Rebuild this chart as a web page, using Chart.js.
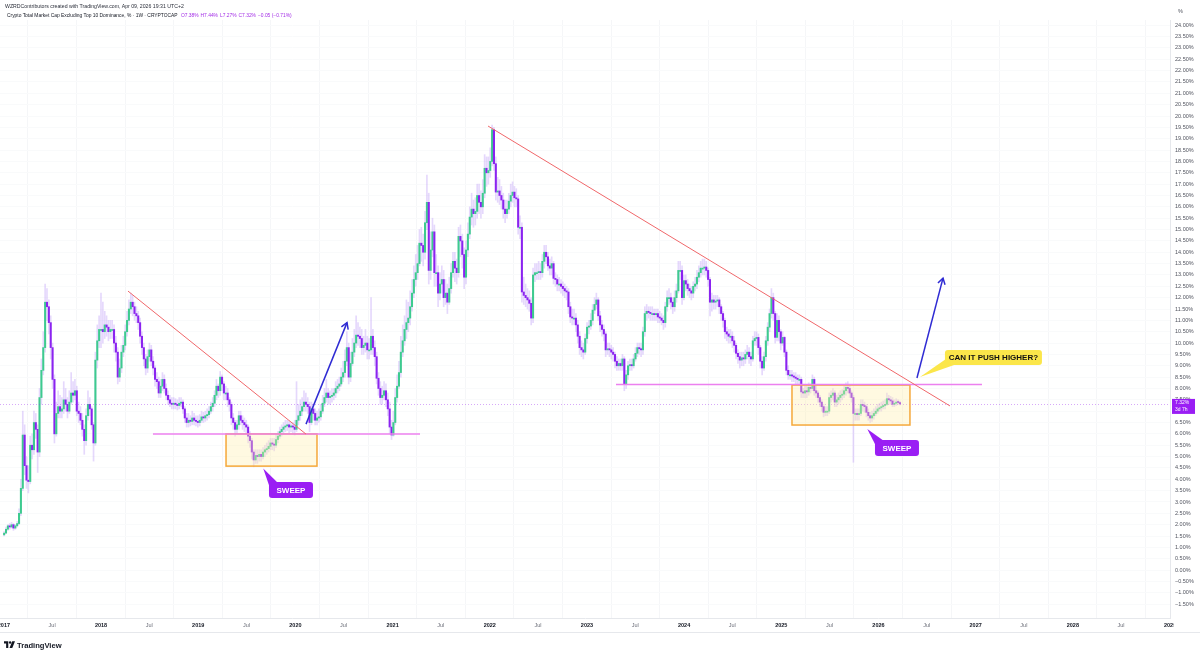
<!DOCTYPE html>
<html>
<head>
<meta charset="utf-8">
<script src="https://cdn.jsdelivr.net/npm/chart.js@4.4.1/dist/chart.umd.min.js"></script>
<style>
  html, body { margin: 0; padding: 0; background: #fff; }
  #wrap { position: relative; width: 1200px; height: 650px; overflow: hidden; font-family: "Liberation Sans", Arial, sans-serif; }
  #c { position: absolute; left: 0; top: 0; }
  .hdr1 { position: absolute; left: 5px; top: 3px; font-size: 5.2px; color: #2a2e39; white-space: nowrap; }
  .hdr2 { position: absolute; left: 7px; top: 13px; font-size: 4.9px; color: #131722; white-space: nowrap; }
  .hdr2 .v { color: #a22be6; margin-left: 2px; }
  .logo { position: absolute; left: 4px; top: 640px; height: 10px; display: flex; align-items: center; gap: 2px;
          font-weight: bold; font-size: 7.6px; color: #131722; }
</style>
</head>
<body>
<div id="wrap">
  <canvas id="c" width="1200" height="650"></canvas>
  <div class="hdr1">WZRDContributors created with TradingView.com, Apr 09, 2026 19:31 UTC+2</div>
  <div class="hdr2">Crypto Total Market Cap Excluding Top 10 Dominance, % · 1W · CRYPTOCAP
    <span class="v">O7.38%</span><span class="v">H7.44%</span><span class="v">L7.27%</span><span class="v">C7.32%</span><span class="v">−0.05 (−0.71%)</span></div>
  <div class="logo">
    <svg width="11" height="8" viewBox="0 0 36 24"><path d="M0 0h14v22H7V7H0z" fill="#131722"/><circle cx="20" cy="4" r="4" fill="#131722"/><path d="M27 0h9l-9 22h-9z" fill="#131722"/></svg>
    <span>TradingView</span>
  </div>
</div>
<script>
// weekly candles from the week of 2 Jan 2017, open = previous close
const firstOpen = 1.55;

const closes2017 = [1.63,1.8,1.95,1.9,2.0,1.85,1.95,2.05,2.5,3.6,5.95,4.6,3.96,3.9,5.5,5.3,6.5,6.2,5.2,7.6,8.8,9.8,11.8,11.6,10.9,9.8,8.4,6.0,6.9,7.2,7.0,7.1,7.5,7.3,7.0,7.4,7.8,7.7,7.9,7.0,6.9,6.6,6.2,5.7,6.8,7.3,7.1,6.4,5.6,9.25,10.1,10.6];
const highs2017 = [1.7,1.9,2.0,2.05,2.1,2.05,2.0,2.15,2.7,4.0,7.0,6.4,5.0,4.6,5.9,6.0,7.0,6.9,6.4,8.0,9.3,10.5,12.6,12.4,11.9,11.2,10.0,8.6,7.4,7.9,7.7,7.6,8.3,8.0,7.6,7.9,8.7,8.3,8.4,8.1,7.4,7.2,6.9,6.4,7.1,7.9,7.6,7.2,6.5,9.6,10.8,11.2];
const lows2017 = [1.5,1.6,1.75,1.8,1.85,1.75,1.8,1.9,2.0,2.4,3.5,4.2,3.6,3.4,3.8,4.9,5.1,5.8,4.3,5.0,7.3,8.6,9.6,11.0,10.4,9.3,8.0,5.6,5.9,6.7,6.7,6.7,6.9,7.0,6.7,6.9,7.3,7.4,7.5,6.8,6.5,6.4,5.9,5.1,5.5,6.6,6.8,6.2,4.8,5.5,8.9,9.8];

const closes2018 = [10.6,10.5,10.8,10.7,10.5,10.6,10.6,10.0,9.6,8.5,8.9,9.6,9.9,10.5,11.0,11.5,11.8,11.6,11.3,11.2,10.9,10.3,9.8,9.3,8.9,9.4,9.7,9.2,8.9,8.4,8.3,7.8,8.1,8.4,8.0,7.7,7.5,7.35,7.3,7.35,7.3,7.25,7.35,7.4,7.1,6.7,6.5,6.6,6.55,6.7,6.6,6.55];
const highs2018 = [12.2,11.8,11.4,11.2,11.0,11.0,11.0,10.8,10.3,9.8,9.3,9.9,10.3,10.8,11.4,11.9,12.2,12.1,11.8,11.6,11.4,11.1,10.5,10.0,9.5,9.7,10.0,9.9,9.4,9.0,8.7,8.5,8.4,8.7,8.6,8.2,7.9,7.7,7.6,7.6,7.55,7.5,7.6,7.6,7.5,7.2,6.9,6.9,6.8,7.0,6.9,6.8];
const lows2018 = [9.8,10.0,10.2,10.3,10.1,10.2,10.2,9.6,9.2,8.2,8.3,8.7,9.4,9.7,10.3,10.8,11.3,11.2,11.0,10.9,10.6,10.0,9.5,9.0,8.6,8.7,9.2,9.0,8.6,8.1,8.0,7.6,7.6,7.9,7.8,7.5,7.3,7.2,7.1,7.1,7.1,7.05,7.1,7.2,6.9,6.5,6.3,6.3,6.35,6.4,6.4,6.35];

const closes2019 = [6.5,6.6,6.75,6.7,6.8,6.85,7.0,7.2,7.35,7.7,8.1,7.9,8.5,8.2,7.8,7.8,7.5,7.3,6.7,6.5,6.2,6.4,6.8,6.6,6.5,6.4,6.3,5.9,5.7,5.2,4.85,5.05,5.0,5.1,5.0,5.2,5.3,5.35,5.45,5.6,5.55,5.5,5.75,5.9,6.1,6.2,6.3,6.35,6.4,6.3,6.35,6.3];
const highs2019 = [6.8,6.85,7.0,6.95,7.0,7.1,7.2,7.4,7.6,7.9,8.4,8.2,8.75,8.6,8.3,8.1,8.0,7.6,7.4,6.9,6.6,6.6,7.0,7.0,6.8,6.7,6.6,6.4,6.1,5.8,5.3,5.3,5.3,5.3,5.3,5.4,5.5,5.6,5.7,5.8,5.8,5.8,6.0,6.1,6.3,6.4,6.5,6.6,6.6,6.55,6.5,6.5];
const lows2019 = [6.3,6.35,6.5,6.5,6.55,6.6,6.7,6.9,7.0,7.2,7.5,7.6,7.7,7.9,7.5,7.5,7.2,7.0,6.4,6.2,5.9,6.0,6.2,6.4,6.2,6.1,6.0,5.6,5.4,4.9,4.55,4.7,4.7,4.8,4.8,4.9,5.0,5.1,5.2,5.3,5.3,5.25,5.4,5.6,5.8,5.9,6.0,6.1,6.15,6.05,6.1,6.05];

const closes2020 = [6.2,6.6,6.8,7.0,7.2,7.4,7.3,7.2,6.5,7.1,6.9,6.6,6.7,6.75,7.0,7.35,7.6,7.8,7.6,7.65,7.7,7.8,8.0,8.1,8.2,8.5,8.7,9.2,9.8,8.5,9.1,9.6,10.0,10.35,10.3,10.2,9.8,9.9,10.0,9.7,9.7,10.3,9.8,9.4,8.45,8.0,7.6,7.7,7.9,7.5,7.1,6.3];
const highs2020 = [6.6,8.3,7.3,7.5,7.6,7.9,7.8,7.6,7.4,7.4,7.3,7.1,7.0,7.1,7.3,7.7,8.0,8.4,8.0,7.9,8.0,8.0,8.3,8.4,8.5,8.9,9.2,9.7,10.5,10.0,9.6,10.2,10.6,11.2,10.9,10.7,10.6,10.3,10.6,10.3,10.2,12.0,10.6,10.1,9.6,8.7,8.3,8.1,8.3,8.2,7.8,7.4];
const lows2020 = [5.95,6.1,6.4,6.6,6.8,7.0,7.0,6.9,6.1,6.4,6.6,6.4,6.4,6.5,6.6,6.9,7.2,7.4,7.3,7.3,7.4,7.5,7.6,7.8,7.9,8.1,8.3,8.5,9.0,8.2,8.3,9.0,9.4,9.8,9.9,9.8,9.5,9.5,9.6,9.3,9.3,9.5,9.5,9.0,8.2,7.7,7.3,7.3,7.5,7.2,6.8,6.0];

const closes2021 = [5.95,6.5,7.6,8.1,8.7,9.6,10.1,10.6,10.9,11.1,11.6,12.2,12.8,13.1,13.5,14.4,14.3,14.0,15.3,16.2,13.2,14.1,14.9,13.1,13.1,12.2,12.6,12.8,12.0,12.2,11.8,12.4,13.1,13.6,13.3,13.1,14.7,14.5,13.9,12.9,14.1,14.8,15.55,15.9,15.7,15.8,16.5,16.2,16.0,16.6,17.7,17.5];
const highs2021 = [6.6,7.0,8.0,8.6,9.2,10.3,10.8,11.2,11.9,11.8,12.3,12.8,13.4,13.9,14.3,15.0,15.1,14.8,15.8,17.4,16.6,14.9,15.5,15.2,13.9,13.4,13.1,13.4,13.2,12.8,12.6,12.9,13.5,14.0,14.0,13.7,15.1,15.2,14.8,14.2,14.5,15.3,16.0,16.6,16.3,16.4,17.0,17.0,16.7,17.2,18.3,18.2];
const lows2021 = [5.75,5.9,6.4,7.4,8.0,8.5,9.4,9.9,10.2,10.5,10.8,11.4,12.0,12.5,12.8,13.4,13.6,13.4,13.7,15.0,12.6,12.8,13.8,12.5,12.5,11.6,11.9,12.2,11.6,11.7,11.3,11.7,12.2,12.9,12.7,12.6,12.9,13.8,13.3,12.4,12.6,13.8,14.6,15.2,15.1,15.2,15.5,15.7,15.5,15.7,16.4,16.9];

const closes2022 = [17.6,18.0,19.4,17.9,16.65,16.7,16.5,16.3,15.9,15.7,15.9,16.25,16.5,16.65,16.4,16.35,15.1,15.1,12.25,12.1,12.0,11.9,11.75,11.1,13.0,13.1,13.1,13.15,13.1,13.6,14.0,13.8,13.4,13.3,13.5,12.85,12.8,12.6,12.6,12.5,12.4,12.3,12.25,11.6,11.15,11.1,11.1,10.8,10.3,9.8,9.7,9.6];
const highs2022 = [18.2,18.6,19.6,19.5,18.2,17.3,17.2,16.9,16.6,16.3,16.3,16.6,17.0,17.1,16.9,16.8,16.5,15.6,15.3,12.9,12.6,12.4,12.3,12.0,13.3,13.5,13.5,13.6,13.5,13.9,14.3,14.3,14.0,13.7,13.8,13.6,13.1,13.0,12.9,12.8,12.7,12.6,12.5,12.4,11.8,11.5,11.5,11.3,11.0,10.5,10.1,10.0];
const lows2022 = [17.0,17.3,17.8,17.6,16.3,16.2,16.1,15.9,15.5,15.3,15.5,15.7,16.0,16.2,16.0,16.0,14.8,14.6,11.8,11.7,11.6,11.5,11.4,10.8,10.9,12.7,12.8,12.8,12.8,12.9,13.3,13.5,13.2,13.0,13.0,12.6,12.5,12.3,12.3,12.2,12.1,12.0,11.9,11.3,10.9,10.8,10.8,10.5,10.0,9.5,9.4,9.3];

const closes2023 = [10.2,10.7,10.75,11.0,11.45,11.7,11.9,11.2,10.8,10.6,10.4,9.7,9.75,9.7,9.6,9.5,9.2,9.0,9.1,9.0,9.3,8.2,8.6,9.0,9.05,9.0,9.3,9.55,9.8,9.75,9.7,10.5,11.3,11.4,11.35,11.3,11.3,11.25,11.3,11.15,11.1,11.0,10.9,11.6,12.0,12.0,11.8,11.6,12.0,12.3,13.2,13.2];
const highs2023 = [10.4,10.9,11.0,11.3,11.7,12.0,12.2,12.0,11.4,11.0,10.8,10.5,10.0,10.0,9.9,9.8,9.6,9.4,9.3,9.3,9.5,9.4,8.8,9.2,9.3,9.3,9.5,9.8,10.0,10.0,10.0,10.7,11.6,11.7,11.6,11.6,11.6,11.5,11.5,11.5,11.4,11.3,11.2,11.8,12.3,12.4,12.2,12.0,12.3,12.6,13.6,13.6];
const lows2023 = [9.5,10.0,10.4,10.6,10.8,11.3,11.5,11.0,10.5,10.3,10.1,9.4,9.5,9.4,9.3,9.2,8.9,8.8,8.8,8.8,8.8,7.9,8.0,8.4,8.8,8.8,8.9,9.2,9.4,9.5,9.4,9.5,10.3,11.0,11.1,11.0,11.0,11.0,11.0,10.9,10.9,10.8,10.6,10.7,11.4,11.7,11.5,11.3,11.4,11.8,12.2,12.8];

const closes2024 = [12.0,12.75,12.6,12.4,12.3,12.2,12.5,12.6,12.9,13.1,13.3,13.3,13.35,13.2,12.8,11.8,11.9,11.8,11.85,11.9,11.6,11.3,11.0,10.5,10.4,10.3,10.3,10.1,9.9,9.55,9.4,9.25,9.35,9.3,9.5,9.6,9.4,9.3,10.1,10.2,10.25,9.8,9.2,8.9,9.4,10.1,10.7,11.3,12.0,11.3,10.25,11.0];
const highs2024 = [13.4,13.0,13.0,12.8,12.6,12.5,12.7,12.9,13.2,13.4,13.6,13.7,13.7,13.6,13.3,12.9,12.2,12.1,12.1,12.1,12.0,11.7,11.4,11.1,10.7,10.6,10.6,10.5,10.3,10.0,9.7,9.6,9.6,9.6,9.7,9.9,9.8,9.6,10.3,10.5,10.5,10.4,9.9,9.4,9.6,10.3,10.9,11.5,12.4,12.2,11.4,11.3];
const lows2024 = [11.7,11.9,12.3,12.1,12.0,11.9,12.0,12.3,12.4,12.7,12.9,13.0,13.0,12.9,12.5,11.2,11.4,11.5,11.5,11.6,11.3,11.0,10.7,10.2,10.1,10.0,10.0,9.8,9.6,9.3,9.1,8.9,9.0,9.0,9.1,9.3,9.1,9.0,9.2,9.9,9.9,9.5,8.9,8.6,8.8,9.2,9.9,10.5,11.1,11.0,10.0,10.1];

const closes2025 = [10.5,10.0,10.25,9.6,8.8,8.6,8.6,8.55,8.5,8.45,8.4,8.4,7.85,7.8,7.9,7.85,8.05,8.0,8.4,7.9,7.8,7.6,7.4,7.2,6.95,7.0,7.0,7.6,7.7,7.8,7.4,7.5,7.6,7.7,7.75,7.9,8.05,8.0,7.8,7.6,6.9,6.9,6.85,6.9,7.3,7.25,7.2,6.95,6.8,6.7,6.8,6.9];
const highs2025 = [11.2,10.6,10.5,10.3,9.7,9.0,8.8,8.8,8.7,8.7,8.6,8.6,8.5,8.0,8.1,8.1,8.25,8.2,8.6,8.5,8.1,7.9,7.7,7.5,7.3,7.2,7.2,7.8,7.9,8.0,7.9,7.7,7.8,7.9,7.95,8.1,8.25,8.3,8.1,7.9,7.7,7.1,7.1,7.1,7.5,7.5,7.4,7.3,7.1,6.95,7.0,7.1];
const lows2025 = [10.1,9.7,9.9,9.4,8.6,8.4,8.4,8.3,8.3,8.2,8.2,8.2,7.6,7.6,7.6,7.6,7.7,7.8,7.9,7.7,7.6,7.4,7.2,7.0,6.75,6.8,6.8,6.9,7.4,7.5,7.2,7.2,7.3,7.4,7.5,7.6,7.7,7.8,7.6,7.4,4.75,6.6,6.6,6.6,6.8,7.0,6.95,6.75,6.6,6.5,6.55,6.65];

const closes2026 = [7.0,7.1,7.15,7.2,7.25,7.3,7.55,7.5,7.45,7.3,7.35,7.4,7.38,7.32];
const highs2026 = [7.2,7.3,7.35,7.4,7.45,7.5,7.8,7.7,7.65,7.6,7.5,7.55,7.5,7.44];
const lows2026 = [6.8,6.9,7.0,7.0,7.1,7.1,7.25,7.3,7.3,7.2,7.2,7.25,7.3,7.27];

const yearTicks = [2017,2018,2019,2020,2021,2022,2023,2024,2025,2026,2027,2028,2029];
const midYearLabel = 'Jul';
const lastPrice = 7.32;
const countdown = '3d 7h';

// drawings, in (year, %) coordinates
const trendLines = [[2018.277, 12.29, 2020.109, 5.99], [2021.982, 19.56, 2026.736, 7.23]];
const levels = [[2018.534, 2021.282, 6.0], [2023.299, 2027.065, 8.17]];
const zones = [[2019.286, 2020.222, 6.0, 4.58], [2025.110, 2026.324, 8.15, 6.39]];
const arrows = [[2020.109, 6.43, 2020.531, 10.90], [2026.396, 8.46, 2026.664, 12.86]];
const callouts = [
  { text: 'SWEEP', at: [2019.728, 3.88], tip: [2019.669, 4.48], w: 44, h: 16, fill: '#9a1ef4', color: '#fff', tail: 'up' },
  { text: 'SWEEP', at: [2025.964, 5.73], tip: [2025.885, 6.21], w: 44, h: 16, fill: '#9a1ef4', color: '#fff', tail: 'up' },
  { text: 'CAN IT PUSH HIGHER?', at: [2026.684, 9.69], tip: [2026.427, 8.50], w: 97, h: 15, fill: '#fbe64a', color: '#111', tail: 'down' }
];

const FONT = '"Liberation Sans", Arial, sans-serif';
const UP = '#3dcb8f', DOWN = '#8b23f0', WICK = 'rgba(186,152,246,0.38)';

const closes = [...closes2017, ...closes2018, ...closes2019, ...closes2020, ...closes2021, ...closes2022, ...closes2023, ...closes2024, ...closes2025, ...closes2026];
const highs = [...highs2017, ...highs2018, ...highs2019, ...highs2020, ...highs2021, ...highs2022, ...highs2023, ...highs2024, ...highs2025, ...highs2026];
const lows = [...lows2017, ...lows2018, ...lows2019, ...lows2020, ...lows2021, ...lows2022, ...lows2023, ...lows2024, ...lows2025, ...lows2026];

const weekX = i => 2017.0027 + i * 7 / 365.25;
const opens = closes.map((c, i) => i === 0 ? firstOpen : closes[i - 1]);
const bodyData = closes.map((c, i) => ({ x: weekX(i), y: [opens[i], c] }));
const wickData = closes.map((c, i) => ({ x: weekX(i), y: [Math.min(lows[i], opens[i], c), Math.max(highs[i], opens[i], c)] }));
const bodyColors = closes.map((c, i) => c >= opens[i] ? UP : DOWN);

const xTicks = [];
yearTicks.forEach((y, k) => {
  xTicks.push({ value: y, label: String(y) });
  if (k < yearTicks.length - 1) xTicks.push({ value: y + 0.496, label: midYearLabel });
});
const isYearTick = ctx => !!(ctx.tick && Math.abs(ctx.tick.value - Math.round(ctx.tick.value)) < 1e-6);
const xLabel = v => {
  const t = xTicks.find(t => Math.abs(t.value - v) < 1e-6);
  return t ? t.label : '';
};

const drawings = {
  id: 'drawings',
  afterDraw(chart) {
    const ctx = chart.ctx, xs = chart.scales.x, ys = chart.scales.y, area = chart.chartArea;
    const X = v => xs.getPixelForValue(v), Y = v => ys.getPixelForValue(v);
    ctx.save();

    // last price dotted line
    ctx.strokeStyle = 'rgba(155,40,240,0.4)';
    ctx.lineWidth = 1;
    ctx.setLineDash([1, 2]);
    ctx.beginPath(); ctx.moveTo(area.left, Math.round(Y(lastPrice)) + 0.5); ctx.lineTo(area.right, Math.round(Y(lastPrice)) + 0.5); ctx.stroke();
    ctx.setLineDash([]);

    // zones
    zones.forEach(z => {
      const x1 = X(z[0]), x2 = X(z[1]), y1 = Y(z[2]), y2 = Y(z[3]);
      ctx.fillStyle = 'rgba(255,238,170,0.35)';
      ctx.fillRect(x1, y1, x2 - x1, y2 - y1);
      ctx.strokeStyle = '#f5a83a';
      ctx.lineWidth = 1.5;
      ctx.strokeRect(x1, y1, x2 - x1, y2 - y1);
    });

    // horizontal levels
    ctx.strokeStyle = '#ec80ef';
    ctx.lineWidth = 1.5;
    levels.forEach(l => {
      ctx.beginPath(); ctx.moveTo(X(l[0]), Y(l[2])); ctx.lineTo(X(l[1]), Y(l[2])); ctx.stroke();
    });

    // trend lines
    ctx.strokeStyle = '#f0676a';
    ctx.lineWidth = 1;
    trendLines.forEach(t => {
      ctx.beginPath(); ctx.moveTo(X(t[0]), Y(t[1])); ctx.lineTo(X(t[2]), Y(t[3])); ctx.stroke();
    });

    // arrows
    ctx.strokeStyle = '#2f2bd3';
    ctx.lineWidth = 1.5;
    arrows.forEach(a => {
      const x1 = X(a[0]), y1 = Y(a[1]), x2 = X(a[2]), y2 = Y(a[3]);
      ctx.beginPath(); ctx.moveTo(x1, y1); ctx.lineTo(x2, y2); ctx.stroke();
      const ang = Math.atan2(y2 - y1, x2 - x1), L = 7, s = 0.55;
      ctx.beginPath();
      ctx.moveTo(x2 - L * Math.cos(ang - s), y2 - L * Math.sin(ang - s));
      ctx.lineTo(x2, y2);
      ctx.lineTo(x2 - L * Math.cos(ang + s), y2 - L * Math.sin(ang + s));
      ctx.stroke();
    });

    // callouts
    callouts.forEach(c => {
      const x = X(c.at[0]), y = Y(c.at[1]), tx = X(c.tip[0]), ty = Y(c.tip[1]);
      ctx.fillStyle = c.fill;
      ctx.beginPath();
      ctx.moveTo(tx, ty);
      if (c.tail === 'up') { ctx.lineTo(x + 1, y + 6); ctx.lineTo(x + 9, y + 1); }
      else { ctx.lineTo(x + 1, y + c.h - 6); ctx.lineTo(x + 12, y + c.h - 1); }
      ctx.closePath(); ctx.fill();
      ctx.beginPath(); ctx.roundRect(x, y, c.w, c.h, 3); ctx.fill();
      ctx.fillStyle = c.color;
      ctx.font = 'bold 8px ' + FONT;
      ctx.textAlign = 'center'; ctx.textBaseline = 'middle';
      ctx.fillText(c.text, x + c.w / 2, y + c.h / 2 + 0.5);
    });

    // price badge on the axis
    const py = Y(lastPrice);
    ctx.fillStyle = '#9a1ef4';
    ctx.fillRect(area.right + 2, py - 5, 23, 15);
    ctx.fillStyle = '#fff';
    ctx.font = '5px ' + FONT;
    ctx.textAlign = 'left'; ctx.textBaseline = 'middle';
    ctx.fillText(lastPrice.toFixed(2) + '%', area.right + 5, py - 1);
    ctx.fillText(countdown, area.right + 5, py + 5.5);

    // unit label and axis frame
    ctx.fillStyle = '#50535e';
    ctx.font = '5.5px ' + FONT;
    ctx.fillText('%', area.right + 8, 11);
    ctx.strokeStyle = '#e6e8ec';
    ctx.lineWidth = 1;
    ctx.beginPath(); ctx.moveTo(0, 632.5); ctx.lineTo(1200, 632.5); ctx.stroke();
    ctx.fillStyle = '#fff';
    ctx.fillRect(area.right + 3.5, area.bottom + 1, 40, 12);
    ctx.restore();
  }
};

new Chart(document.getElementById('c'), {
  type: 'bar',
  data: {
    datasets: [
      { label: 'wick', data: wickData, backgroundColor: WICK, barThickness: 1, grouped: false, order: 2 },
      { label: 'body', data: bodyData, backgroundColor: bodyColors, barThickness: 1.4, minBarLength: 1, grouped: false, order: 1 }
    ]
  },
  options: {
    responsive: false,
    animation: false,
    devicePixelRatio: 1,
    events: [],
    layout: { padding: { top: 20, bottom: 18, left: 0, right: 0 }, autoPadding: false },
    plugins: { legend: { display: false }, tooltip: { enabled: false } },
    scales: {
      x: {
        type: 'linear', min: 2016.96, max: 2029.0, offset: false,
        afterBuildTicks: s => { s.ticks = xTicks.map(t => ({ value: t.value })); },
        afterFit: s => { s.height = 14; s.paddingLeft = 0; s.paddingRight = 0; },
        ticks: {
          autoSkip: false, maxRotation: 0, padding: 4,
          callback: v => xLabel(v),
          color: ctx => isYearTick(ctx) ? '#131722' : '#6a6d78',
          font: ctx => ({ family: FONT, size: 5.5, weight: isYearTick(ctx) ? 'bold' : 'normal' })
        },
        grid: { color: '#f5f6f8', drawTicks: false },
        border: { color: '#e6e8ec' }
      },
      y: {
        position: 'right', min: -2.11, max: 24.23,
        afterBuildTicks: s => {
          const t = [];
          for (let v = -1.5; v <= 24.001; v += 0.5) t.push({ value: Math.round(v * 100) / 100 });
          s.ticks = t;
        },
        afterFit: s => { s.width = 30; s.paddingTop = 0; s.paddingBottom = 0; },
        ticks: {
          padding: 5, color: '#50535e', font: { family: FONT, size: 5.5 },
          callback: v => (v < 0 ? '−' + Math.abs(v).toFixed(2) : v.toFixed(2)) + '%'
        },
        grid: { color: '#f9fafb', drawTicks: false },
        border: { color: '#e6e8ec' }
      }
    }
  },
  plugins: [drawings]
});
</script>
</body>
</html>
